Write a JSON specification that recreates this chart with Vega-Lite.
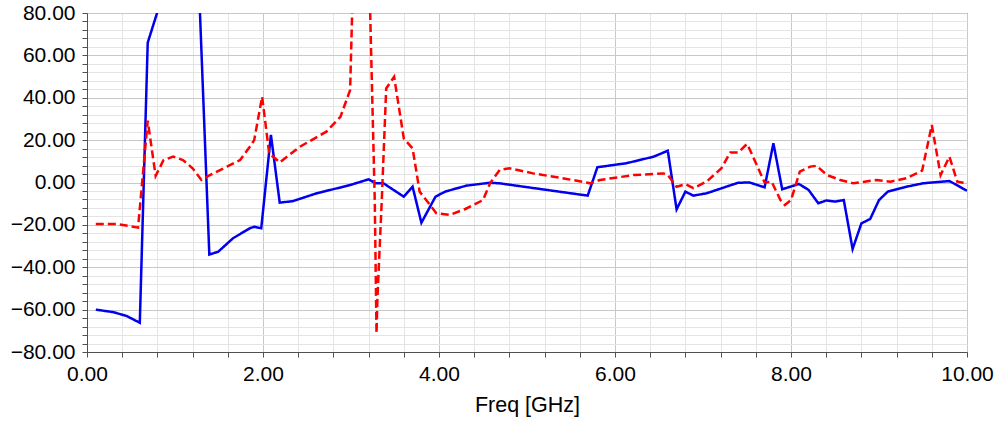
{
  "$schema": "https://vega.github.io/schema/vega-lite/v6.json",
  "width": 880,
  "height": 339,
  "autosize": {"type": "none"},
  "padding": {"left": 87, "top": 13, "right": 33, "bottom": 71},
  "background": "white",
  "config": {
    "view": {"stroke": "#505050", "strokeWidth": 1},
    "font": "Liberation Sans"
  },
  "data": {
    "values": [
      {"f": 0.1, "v": -60, "s": "A"}, {"f": 0.3, "v": -61.2, "s": "A"}, {"f": 0.45, "v": -63, "s": "A"}, {"f": 0.6, "v": -66.2, "s": "A"},
      {"f": 0.69, "v": 66, "s": "A"}, {"f": 0.8, "v": 80.5, "s": "A"}, {"f": 1.0, "v": 120, "s": "A"}, {"f": 1.2, "v": 170, "s": "A"},
      {"f": 1.39, "v": -34, "s": "A"}, {"f": 1.49, "v": -32.7, "s": "A"}, {"f": 1.66, "v": -26.3, "s": "A"}, {"f": 1.85, "v": -21.6, "s": "A"},
      {"f": 1.9, "v": -20.9, "s": "A"}, {"f": 1.98, "v": -21.6, "s": "A"}, {"f": 2.09, "v": 22.5, "s": "A"}, {"f": 2.19, "v": -9.5, "s": "A"},
      {"f": 2.34, "v": -8.8, "s": "A"}, {"f": 2.61, "v": -5.1, "s": "A"}, {"f": 2.99, "v": -1.2, "s": "A"}, {"f": 3.2, "v": 1.5, "s": "A"},
      {"f": 3.28, "v": -0.4, "s": "A"}, {"f": 3.37, "v": -0.4, "s": "A"}, {"f": 3.6, "v": -6.7, "s": "A"}, {"f": 3.7, "v": -2, "s": "A"},
      {"f": 3.8, "v": -19, "s": "A"}, {"f": 3.96, "v": -6.7, "s": "A"}, {"f": 4.07, "v": -4.3, "s": "A"}, {"f": 4.31, "v": -1.5, "s": "A"},
      {"f": 4.58, "v": -0.1, "s": "A"}, {"f": 4.69, "v": -0.4, "s": "A"}, {"f": 5.69, "v": -6.2, "s": "A"}, {"f": 5.8, "v": 7.2, "s": "A"},
      {"f": 6.13, "v": 9.1, "s": "A"}, {"f": 6.44, "v": 12.2, "s": "A"}, {"f": 6.6, "v": 15, "s": "A"}, {"f": 6.7, "v": -12.7, "s": "A"},
      {"f": 6.8, "v": -4.3, "s": "A"}, {"f": 6.89, "v": -6.2, "s": "A"}, {"f": 7.04, "v": -5.1, "s": "A"}, {"f": 7.4, "v": -0.1, "s": "A"},
      {"f": 7.53, "v": 0, "s": "A"}, {"f": 7.7, "v": -2.3, "s": "A"}, {"f": 7.8, "v": 18.5, "s": "A"}, {"f": 7.9, "v": -3.2, "s": "A"},
      {"f": 8.09, "v": -0.7, "s": "A"}, {"f": 8.2, "v": -3.5, "s": "A"}, {"f": 8.31, "v": -9.8, "s": "A"}, {"f": 8.4, "v": -8.5, "s": "A"},
      {"f": 8.5, "v": -9, "s": "A"}, {"f": 8.6, "v": -8.3, "s": "A"}, {"f": 8.7, "v": -31.4, "s": "A"}, {"f": 8.8, "v": -19.3, "s": "A"},
      {"f": 8.9, "v": -17.2, "s": "A"}, {"f": 9.0, "v": -8.3, "s": "A"}, {"f": 9.1, "v": -4.3, "s": "A"}, {"f": 9.31, "v": -2, "s": "A"},
      {"f": 9.5, "v": -0.4, "s": "A"}, {"f": 9.6, "v": 0, "s": "A"}, {"f": 9.8, "v": 0.7, "s": "A"}, {"f": 10, "v": -3.9, "s": "A"},

      {"f": 0.1, "v": -19.6, "s": "B"}, {"f": 0.34, "v": -19.6, "s": "B"}, {"f": 0.58, "v": -21.3, "s": "B"}, {"f": 0.69, "v": 29.2, "s": "B"},
      {"f": 0.78, "v": 3.1, "s": "B"}, {"f": 0.87, "v": 10.6, "s": "B"}, {"f": 0.98, "v": 12.2, "s": "B"}, {"f": 1.09, "v": 10.6, "s": "B"},
      {"f": 1.2, "v": 6.7, "s": "B"}, {"f": 1.3, "v": 1.2, "s": "B"}, {"f": 1.38, "v": 3.1, "s": "B"}, {"f": 1.59, "v": 7.5, "s": "B"},
      {"f": 1.74, "v": 10.6, "s": "B"}, {"f": 1.85, "v": 16.9, "s": "B"}, {"f": 1.9, "v": 20, "s": "B"}, {"f": 1.99, "v": 40.5, "s": "B"},
      {"f": 2.07, "v": 13.8, "s": "B"}, {"f": 2.19, "v": 9.5, "s": "B"}, {"f": 2.42, "v": 16.9, "s": "B"}, {"f": 2.72, "v": 24, "s": "B"},
      {"f": 2.88, "v": 31, "s": "B"}, {"f": 2.99, "v": 43.6, "s": "B"}, {"f": 3.12, "v": 250, "s": "B"}, {"f": 3.215, "v": 85, "s": "B"},
      {"f": 3.27, "v": -8.3, "s": "B"}, {"f": 3.29, "v": -71.2, "s": "B"}, {"f": 3.3, "v": -55, "s": "B"}, {"f": 3.35, "v": -8, "s": "B"},
      {"f": 3.4, "v": 44.4, "s": "B"}, {"f": 3.49, "v": 49.9, "s": "B"}, {"f": 3.6, "v": 20.8, "s": "B"}, {"f": 3.7, "v": 16.1, "s": "B"},
      {"f": 3.78, "v": -4.3, "s": "B"}, {"f": 3.97, "v": -14.5, "s": "B"}, {"f": 4.12, "v": -15.3, "s": "B"}, {"f": 4.3, "v": -12.5, "s": "B"},
      {"f": 4.5, "v": -8.3, "s": "B"}, {"f": 4.58, "v": -0.4, "s": "B"}, {"f": 4.69, "v": 5.9, "s": "B"}, {"f": 4.8, "v": 6.7, "s": "B"},
      {"f": 5.07, "v": 4.3, "s": "B"}, {"f": 5.45, "v": 1.7, "s": "B"}, {"f": 5.72, "v": -0.4, "s": "B"}, {"f": 5.83, "v": 1.2, "s": "B"},
      {"f": 6.21, "v": 3.5, "s": "B"}, {"f": 6.55, "v": 4.3, "s": "B"}, {"f": 6.6, "v": 3.5, "s": "B"}, {"f": 6.7, "v": -2, "s": "B"},
      {"f": 6.8, "v": -0.8, "s": "B"}, {"f": 6.89, "v": -2.7, "s": "B"}, {"f": 7.04, "v": 0.4, "s": "B"}, {"f": 7.21, "v": 6.7, "s": "B"},
      {"f": 7.31, "v": 14.2, "s": "B"}, {"f": 7.4, "v": 14.2, "s": "B"}, {"f": 7.5, "v": 18.2, "s": "B"}, {"f": 7.53, "v": 15.7, "s": "B"},
      {"f": 7.7, "v": 0, "s": "B"}, {"f": 7.78, "v": 0.4, "s": "B"}, {"f": 7.88, "v": -8.3, "s": "B"}, {"f": 7.93, "v": -10.6, "s": "B"},
      {"f": 8.0, "v": -8.3, "s": "B"}, {"f": 8.1, "v": 5.1, "s": "B"}, {"f": 8.22, "v": 7.5, "s": "B"}, {"f": 8.29, "v": 7.9, "s": "B"},
      {"f": 8.41, "v": 3.5, "s": "B"}, {"f": 8.56, "v": 1.2, "s": "B"}, {"f": 8.71, "v": -0.4, "s": "B"}, {"f": 8.97, "v": 1.2, "s": "B"},
      {"f": 9.13, "v": 0.4, "s": "B"}, {"f": 9.31, "v": 2, "s": "B"}, {"f": 9.49, "v": 5.6, "s": "B"}, {"f": 9.6, "v": 27.1, "s": "B"},
      {"f": 9.7, "v": 3.5, "s": "B"}, {"f": 9.8, "v": 12.2, "s": "B"}, {"f": 9.89, "v": 0.4, "s": "B"}, {"f": 10, "v": -0.4, "s": "B"}
    ]
  },
  "mark": {"type": "line", "clip": true, "strokeWidth": 2.5, "interpolate": "linear"},
  "encoding": {
    "x": {
      "field": "f", "type": "quantitative",
      "scale": {"domain": [0, 10], "nice": false, "zero": false},
      "axis": {
        "title": "Freq [GHz]",
        "titleFontSize": 21.5, "titleFontWeight": "normal", "titleColor": "#000", "titleFont": "Liberation Sans", "titlePadding": 10,
        "values": [0,0.4,0.8,1.2,1.6,2,2.4,2.8,3.2,3.6,4,4.4,4.8,5.2,5.6,6,6.4,6.8,7.2,7.6,8,8.4,8.8,9.2,9.6,10],
        "labelExpr": "datum.value % 2 === 0 ? format(datum.value, '.2f') : ''",
        "labelFontSize": 21, "labelColor": "#000", "labelFont": "Liberation Sans", "labelPadding": 6,
        "labelFlush": false, "labelBound": false, "labelOverlap": false,
        "tickSize": 5, "tickColor": "#505050",
        "domainColor": "#505050",
        "grid": true,
        "gridColor": {"condition": {"test": "datum.value % 2 === 0", "value": "#c8c8c8"}, "value": "#e4e4e4"}
      }
    },
    "y": {
      "field": "v", "type": "quantitative",
      "scale": {"domain": [-80, 80], "nice": false, "zero": false},
      "axis": {
        "title": null,
        "values": [-80,-76,-72,-68,-64,-60,-56,-52,-48,-44,-40,-36,-32,-28,-24,-20,-16,-12,-8,-4,0,4,8,12,16,20,24,28,32,36,40,44,48,52,56,60,64,68,72,76,80],
        "labelExpr": "datum.value % 20 === 0 ? format(datum.value, '.2f') : ''",
        "labelFontSize": 21, "labelColor": "#000", "labelFont": "Liberation Sans", "labelPadding": 7,
        "labelFlush": false, "labelBound": false, "labelOverlap": false,
        "tickSize": 5, "tickColor": "#505050",
        "domainColor": "#505050",
        "grid": true,
        "gridColor": {"condition": {"test": "datum.value % 20 === 0", "value": "#c8c8c8"}, "value": "#e4e4e4"}
      }
    },
    "color": {"field": "s", "type": "nominal", "scale": {"domain": ["A", "B"], "range": ["#0000ee", "#ff0000"]}, "legend": null},
    "strokeDash": {"field": "s", "type": "nominal", "scale": {"domain": ["A", "B"], "range": [[1, 0], [8, 4]]}, "legend": null},
    "order": {"field": "f", "type": "quantitative"}
  }
}
